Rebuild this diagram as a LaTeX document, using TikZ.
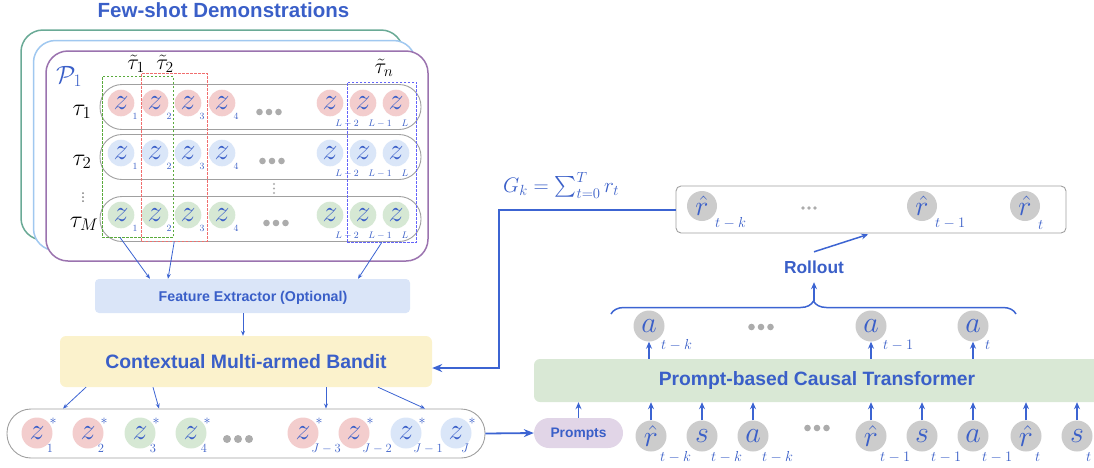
\RequirePackage{fix-cm}
\documentclass[tikz,border=0pt]{standalone}
\usepackage{exscale}
\usepackage{fontspec}
\newfontfamily\arialf{Liberation Sans}
\usetikzlibrary{arrows.meta,decorations.pathreplacing,calc}
\newcommand{\fsz}[1]{\fontsize{#1}{#1}\selectfont}
\newcommand{\threedots}[4]{\fill[dotgray] (#1-#4,#2) circle (#3) (#1,#2) circle (#3) (#1+#4,#2) circle (#3);}
\definecolor{tblue}{RGB}{58,95,200}
\definecolor{ablue}{RGB}{60,100,210}
\definecolor{zred}{RGB}{243,205,205}
\definecolor{zblue}{RGB}{218,230,248}
\definecolor{zgreen}{RGB}{214,232,212}
\definecolor{tokgray}{RGB}{204,204,204}
\definecolor{dotgray}{RGB}{172,172,172}
\definecolor{pillgray}{RGB}{160,160,160}
\definecolor{stgreen}{RGB}{106,170,150}
\definecolor{stblue}{RGB}{160,200,240}
\definecolor{stpurple}{RGB}{155,115,175}
\definecolor{fefill}{RGB}{218,229,248}
\definecolor{cmbfill}{RGB}{251,242,204}
\definecolor{prfill}{RGB}{225,213,231}
\definecolor{trfill}{RGB}{217,232,213}
\definecolor{dgreen}{RGB}{90,170,60}
\definecolor{dred}{RGB}{240,110,110}
\definecolor{dblue}{RGB}{100,100,250}
\begin{document}
\begin{tikzpicture}[x=1pt,y=-1pt,
  stack/.style={fill=white, line width=1.5pt, rounded corners=22pt, minimum width=382pt, minimum height=210pt, inner sep=0pt},
  rpill/.style={draw=pillgray, line width=0.9pt, rounded corners=22pt, minimum width=321pt, minimum height=45pt, inner sep=0pt},
  dbox/.style={line width=0.9pt, dash pattern=on 2.5pt off 1.5pt, inner sep=0pt},
  zc/.style={circle, inner sep=0pt, minimum size=26.6pt, text=tblue, font=\fsz{30}},
  zsub/.style={text=tblue, font=\fsz{9.5}, inner sep=0pt, anchor=base},
  zsc/.style={circle, inner sep=0pt, minimum size=31pt, text=tblue, font=\fsz{30}},
  bsub/.style={text=tblue, font=\fsz{12.5}, inner sep=0pt, anchor=base},
  star/.style={text=tblue, font=\fsz{14}, inner sep=0pt},
  tok/.style={circle, fill=tokgray, inner sep=0pt, minimum size=31pt, text=tblue, font=\fsz{30}},
  rtok/.style={circle, fill=tokgray, inner sep=0pt, minimum size=30pt, text=tblue, font=\fsz{28}},
  tsub/.style={text=tblue, font=\fsz{14.5}, inner sep=0pt, anchor=west},
  lbl/.style={inner sep=0pt, font=\fsz{24}},
  bold/.style={text=tblue, font=\arialf\bfseries\fsz{#1}, inner sep=0pt},
  arr/.style={draw=ablue, line width=0.8pt, -{Stealth[length=5pt,width=4pt]}},
  arrb/.style={draw=ablue, line width=1.5pt, -{Stealth[length=7pt,width=6pt]}},
  fb/.style={draw=ablue, line width=2pt, -{Stealth[length=10pt,width=8pt]}}
]
\useasboundingbox (0,0) rectangle (1094,467);

% title
\node[bold=20.5, anchor=base] (ttl) at (223.5,17) {Few-shot Demonstrations};

% stacked prompt boxes
\node[stack, draw=stgreen] (sg) at (212,135) {};
\node[stack, draw=stblue] (sb) at (224.5,145.5) {};
\node[stack, draw=stpurple] (sp) at (237,156) {};
\node[inner sep=0pt, text=tblue, font=\fsz{25}, anchor=base west] (p1) at (56,83) {$\mathcal{P}_1$};

% row pills
\node[rpill] (row1) at (260.5,107) {};
\node[rpill] (row2) at (260.5,157) {};
\node[rpill] (row3) at (260.5,219) {};

% row labels
\node[lbl, anchor=base] (ta1) at (82,115) {$\tau_1$};
\node[lbl, anchor=base] (ta2) at (82,165) {$\tau_2$};
\node[lbl, anchor=base] (taM) at (84,227) {$\tau_M$};
\fill[gray] (83,193) circle (1pt) (83,197) circle (1pt) (83,201) circle (1pt);
\fill[dotgray] (274,184) circle (1.2pt) (274,188.5) circle (1.2pt) (274,193) circle (1.2pt);

% row circles
\foreach \r/\y/\col in {1/103/zred,2/153/zblue,3/215/zgreen}{
  \foreach \c/\x/\lab/\dx/\dy in {1/121/1/14/16.3, 2/155/2/14/16.3, 3/188/3/14/16.3, 4/222/4/14/16.3, 5/330/L-2/17/23, 6/363/L-1/17/23, 7/396/L/9/23}{
    \node[zc, fill=\col] (z\r c\c) at (\x,\y) {$z$};
    \node[zsub] (zs\r c\c) at (\x+\dx,\y+\dy) {$\lab$};
  }
}
\threedots{269}{112}{3.3pt}{9.5}
\threedots{272}{161}{3.3pt}{9.5}
\threedots{276}{223}{3.3pt}{9.5}

% dashed selection boxes
\node[dbox, draw=dgreen, minimum width=71pt, minimum height=161pt] (gd) at (137.5,156.5) {};
\node[dbox, draw=dred, minimum width=65.5pt, minimum height=168pt] (rd) at (174.25,157) {};
\node[dbox, draw=dblue, minimum width=69.5pt, minimum height=160pt] (bd) at (381.75,162) {};
\node[lbl, font=\fsz{22}, anchor=base] (tt1) at (136,69) {$\tilde\tau_1$};
\node[lbl, font=\fsz{22}, anchor=base] (tt2) at (165,69) {$\tilde\tau_2$};
\node[lbl, font=\fsz{22}, anchor=base] (ttn) at (384,73.5) {$\tilde\tau_n$};

% feature extractor
\node[fill=fefill, rounded corners=4pt, minimum width=315pt, minimum height=34pt, inner sep=0pt] (fe) at (252.5,296) {};
\node[bold=14.2] (fet) at (253,298) {Feature Extractor (Optional)};
\draw[arr] ([xshift=-17.5pt]gd.south) -- ([xshift=-102.5pt]fe.north);
\draw[arr] (rd.south) -- ([xshift=-84.5pt]fe.north);
\draw[arr] (bd.south) -- ([xshift=105.5pt]fe.north);

% contextual bandit
\node[fill=cmbfill, rounded corners=6pt, minimum width=372pt, minimum height=51pt, inner sep=0pt] (cmb) at (246,361.5) {};
\node[bold=19.4] (cmbt) at (246,362) {Contextual Multi-armed Bandit};
\draw[arr] ([xshift=-9.5pt]fe.south) -- ([xshift=-3pt]cmb.north);

% bottom pill of selected segments
\node[draw=pillgray, line width=0.9pt, rounded corners=24pt, minimum width=478pt, minimum height=49pt, inner sep=0pt] (bp) at (246,433.5) {};
\foreach \i/\x/\col/\lab/\dx in {1/37/zred/1/13, 2/88/zred/2/13, 3/140/zgreen/3/13, 4/191/zgreen/4/13, 5/303/zred/J-3/23, 6/354/zred/J-2/23, 7/406/zblue/J-1/22, 8/456/zblue/J/9}{
  \node[zsc, fill=\col] (s\i) at (\x,433) {$z$};
  \node[star] (st\i) at (\x+16,421) {$*$};
  \node[bsub] (ss\i) at (\x+\dx,452) {$\lab$};
}
\threedots{238}{439}{4pt}{11}
\draw[arr] ([xshift=-160pt]cmb.south) -- ([xshift=-183pt]bp.north);
\draw[arr] ([xshift=-93pt]cmb.south) -- ([xshift=-87pt]bp.north);
\draw[arr] ([xshift=80pt]cmb.south) -- ([xshift=80pt]bp.north);
\draw[arr] ([xshift=132pt]cmb.south) -- ([xshift=179pt]bp.north);

% prompts
\node[fill=prfill, rounded corners=15pt, minimum width=89pt, minimum height=30pt, inner sep=0pt] (pr) at (578.5,433) {};
\node[bold=13.8] (prt) at (578.5,434) {Prompts};
\draw[fb, line width=1.8pt] (bp.east) -- (pr.west);

% transformer
\fill[trfill, rounded corners=6pt] (1094,359) -- (534,359) -- (534,402) -- (1094,402);
\node[bold=19.3, minimum width=566pt, minimum height=43pt] (tr) at (817,380.5) {Prompt-based Causal Transformer};
\draw[arrb] (pr.north) -- (pr.north |- tr.south);

% input tokens
\foreach \i/\x/\lab/\sub in {1/651/\hat r/t-k, 2/702/s/t-k, 3/753/a/t-k, 4/871/\hat r/t-1, 5/922/s/t-1, 6/973/a/t-1, 7/1026/\hat r/t, 8/1077/s/t}{
  \node[tok] (b\i) at (\x,436) {$\lab$};
  \node[tsub] (bs\i) at (\x+9,457) {$\sub$};
  \draw[arrb] (b\i.north) -- (b\i.north |- tr.south);
}
\threedots{817}{428}{3.3pt}{9.5}

% output actions
\foreach \i/\x/\sub in {1/649/t-k, 2/871/t-1, 3/973/t}{
  \node[tok] (a\i) at (\x,326) {$a$};
  \node[tsub] (as\i) at (\x+12,345) {$\sub$};
  \draw[arrb] (a\i.south |- tr.north) -- (a\i.south);
}
\threedots{761}{327}{3.3pt}{9.5}

% brace and rollout
\draw[ablue, line width=1.5pt, decorate, decoration={brace, amplitude=13pt}] (611,314) -- (1016,314);
\coordinate (bt) at (814,301);
\node[bold=17.4, minimum height=30pt] (ro) at (814,267) {Rollout};
\draw[arrb] (bt) -- (ro.south);

% reward box
\node[draw=pillgray, line width=0.9pt, rounded corners=5pt, minimum width=390pt, minimum height=47pt, inner sep=0pt] (rw) at (871,209.5) {};
\foreach \i/\x/\sub/\sy in {1/702/t-k/223, 2/922/t-1/223, 3/1025/t/225}{
  \node[rtok] (r\i) at (\x,206) {$\hat r$};
  \node[tsub] (rs\i) at (\x+13,\sy) {$\sub$};
}
\fill[dotgray] (803,208) circle (1.8pt) (809,208) circle (1.8pt) (815,208) circle (1.8pt);
\draw[arrb, shorten >=3pt] (ro.north) -- (rw.south);

% return label and feedback
\node[text=tblue, font=\fsz{21}, inner sep=0pt, anchor=base west] (gk) at (503,192.5) {$G_k=\sum_{t=0}^{T} r_t$};
\coordinate (fbc) at (499,368);
\draw[fb] (rw.west) -| (fbc) -- (fbc -| cmb.east);
\end{tikzpicture}
\end{document}
